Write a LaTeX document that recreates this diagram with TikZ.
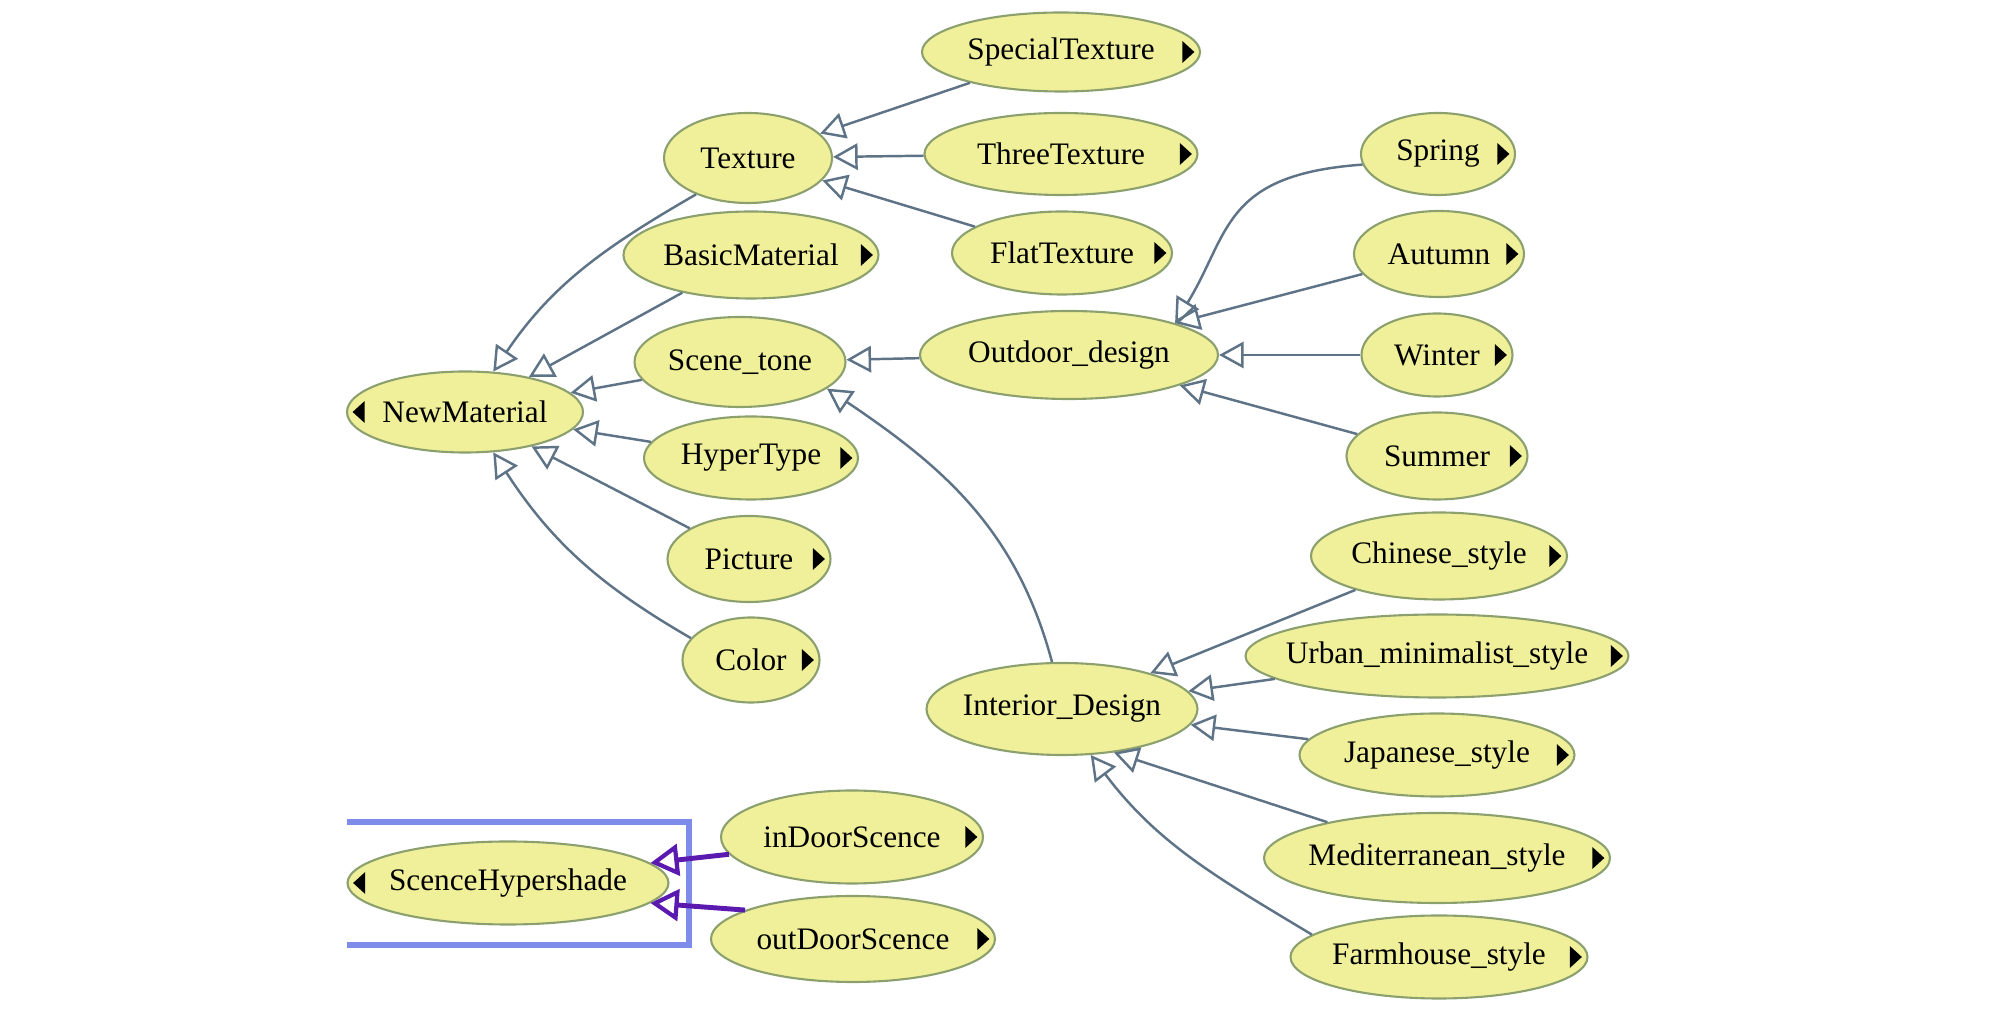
\documentclass[tikz,border=0pt]{standalone}
\usepackage{fontspec}
\setmainfont{Liberation Serif}
\usetikzlibrary{shapes.geometric,arrows.meta}
\definecolor{nodefill}{RGB}{240,240,155}
\definecolor{nodeline}{RGB}{140,160,110}
\definecolor{edgecol}{RGB}{95,115,135}
\definecolor{subcol}{RGB}{90,25,175}
\definecolor{framecol}{RGB}{125,140,235}

\begin{document}
\begin{tikzpicture}[
    cls/.style={ellipse, draw=nodeline, fill=nodefill, line width=0.6pt,
        inner xsep=-6pt, inner ysep=0pt, font=\fontsize{8.9}{10}\selectfont},
    more/.style={cls, path picture={\fill[black] ([xshift=-1.6pt]path picture bounding box.east)
        -- ++(-3.4pt,3.1pt) -- ++(0,-6.2pt) -- cycle;}},
    back/.style={cls, path picture={\fill[black] ([xshift=1.6pt]path picture bounding box.west)
        -- ++(3.4pt,3.1pt) -- ++(0,-6.2pt) -- cycle;}},
    isa/.style={draw=edgecol, line width=0.7pt, -{Triangle[open, length=7pt, width=7.5pt]}},
    sub/.style={draw=subcol, line width=1.4pt, -{Triangle[open, length=8pt, width=9pt, line width=1.2pt]}}
]
            \useasboundingbox (0,0) rectangle (20.08,-10.17);

            \node[cls, minimum width=1.68cm, minimum height=0.90cm] (tex) at (7.48, -1.58) {Texture};
            \node[more, minimum width=2.78cm, minimum height=0.79cm] (sptex) at (10.61, -0.52) {SpecialTexture};
            \node[more, minimum width=2.73cm, minimum height=0.82cm] (thtex) at (10.61, -1.54) {ThreeTexture};
            \node[more, minimum width=2.20cm, minimum height=0.83cm] (fltex) at (10.62, -2.53) {FlatTexture};
            \node[more, minimum width=2.55cm, minimum height=0.87cm] (basic) at (7.51, -2.55) {BasicMaterial};
            \node[cls, minimum width=2.11cm, minimum height=0.90cm] (tone) at (7.40, -3.62) {Scene\_tone};
            \node[cls, minimum width=2.98cm, minimum height=0.88cm] (outdoor) at (10.69, -3.55) {Outdoor\_design};
            \node[back, minimum width=2.36cm, minimum height=0.81cm] (newmat) at (4.65, -4.12) {NewMaterial};
            \node[more, minimum width=2.14cm, minimum height=0.83cm] (hyper) at (7.51, -4.58) {HyperType};
            \node[more, minimum width=1.63cm, minimum height=0.86cm] (pic) at (7.49, -5.59) {Picture};
            \node[more, minimum width=1.37cm, minimum height=0.85cm] (color) at (7.51, -6.60) {Color};

            \node[more, minimum width=1.54cm, minimum height=0.82cm] (spring) at (14.38, -1.54) {Spring};
            \node[more, minimum width=1.70cm, minimum height=0.86cm] (autumn) at (14.39, -2.54) {Autumn};
            \node[more, minimum width=1.51cm, minimum height=0.83cm] (winter) at (14.37, -3.55) {Winter};
            \node[more, minimum width=1.81cm, minimum height=0.87cm] (summer) at (14.37, -4.56) {Summer};

            \node[cls, minimum width=2.71cm, minimum height=0.92cm] (interior) at (10.62, -7.09) {Interior\_Design};
            \node[more, minimum width=2.56cm, minimum height=0.87cm] (chinese) at (14.39, -5.56) {Chinese\_style};
            \node[more, minimum width=3.83cm, minimum height=0.83cm] (urban) at (14.37, -6.56) {Urban\_minimalist\_style};
            \node[more, minimum width=2.75cm, minimum height=0.83cm] (japan) at (14.37, -7.55) {Japanese\_style};
            \node[more, minimum width=3.46cm, minimum height=0.90cm] (medit) at (14.37, -8.58) {Mediterranean\_style};
            \node[more, minimum width=2.97cm, minimum height=0.83cm] (farm) at (14.39, -9.57) {Farmhouse\_style};

            % selected class
            \draw[framecol, line width=1.7pt] (3.47,-8.22) -- (6.89,-8.22) -- (6.89,-9.45) -- (3.47,-9.45);
            \node[back, minimum width=3.21cm, minimum height=0.83cm] (hyshade) at (5.08, -8.83) {ScenceHypershade};
            \node[more, minimum width=2.62cm, minimum height=0.93cm] (indoor) at (8.52, -8.37) {inDoorScence};
            \node[more, minimum width=2.84cm, minimum height=0.86cm] (outdoorsc) at (8.53, -9.39) {outDoorScence};

            % texture
            \draw[isa] (sptex) -- (tex);
            \draw[isa] (thtex) -- (tex);
            \draw[isa] (fltex) -- (tex);

            % newmaterial
            \draw[isa] (tex.215) to[out=210, in=56] (newmat.55);
            \draw[isa] (basic) -- (newmat);
            \draw[isa] (tone) -- (newmat);
            \draw[isa] (hyper) -- (newmat);
            \draw[isa] (pic) -- (newmat);
            \draw[isa] (color.160) to[out=150, in=-57] (newmat.-55);

            % scene tone
            \draw[isa] (outdoor) -- (tone);
            \draw[isa] (interior.102) to[out=105, in=-34] (tone.-17);

            % seasons
            \draw[isa] (spring.188) .. controls +(-1.4,-0.1) and +(0.55,0.9) .. (outdoor.north east);
            \draw[isa] (autumn) -- (outdoor.north east);
            \draw[isa] (winter) -- (outdoor);
            \draw[isa] (summer) -- (outdoor);

            % interior styles
            \draw[isa] (chinese) -- (interior);
            \draw[isa] (urban) -- (interior);
            \draw[isa] (japan) -- (interior);
            \draw[isa] (medit) -- (interior.-40);
            \draw[isa] (farm.170) to[out=149, in=-53] (interior.-58);

            % hypershade
            \draw[sub] (indoor.188) -- (hyshade.8);
            \draw[sub] (outdoorsc.165) -- (hyshade.-8);
        \end{tikzpicture}
\end{document}
